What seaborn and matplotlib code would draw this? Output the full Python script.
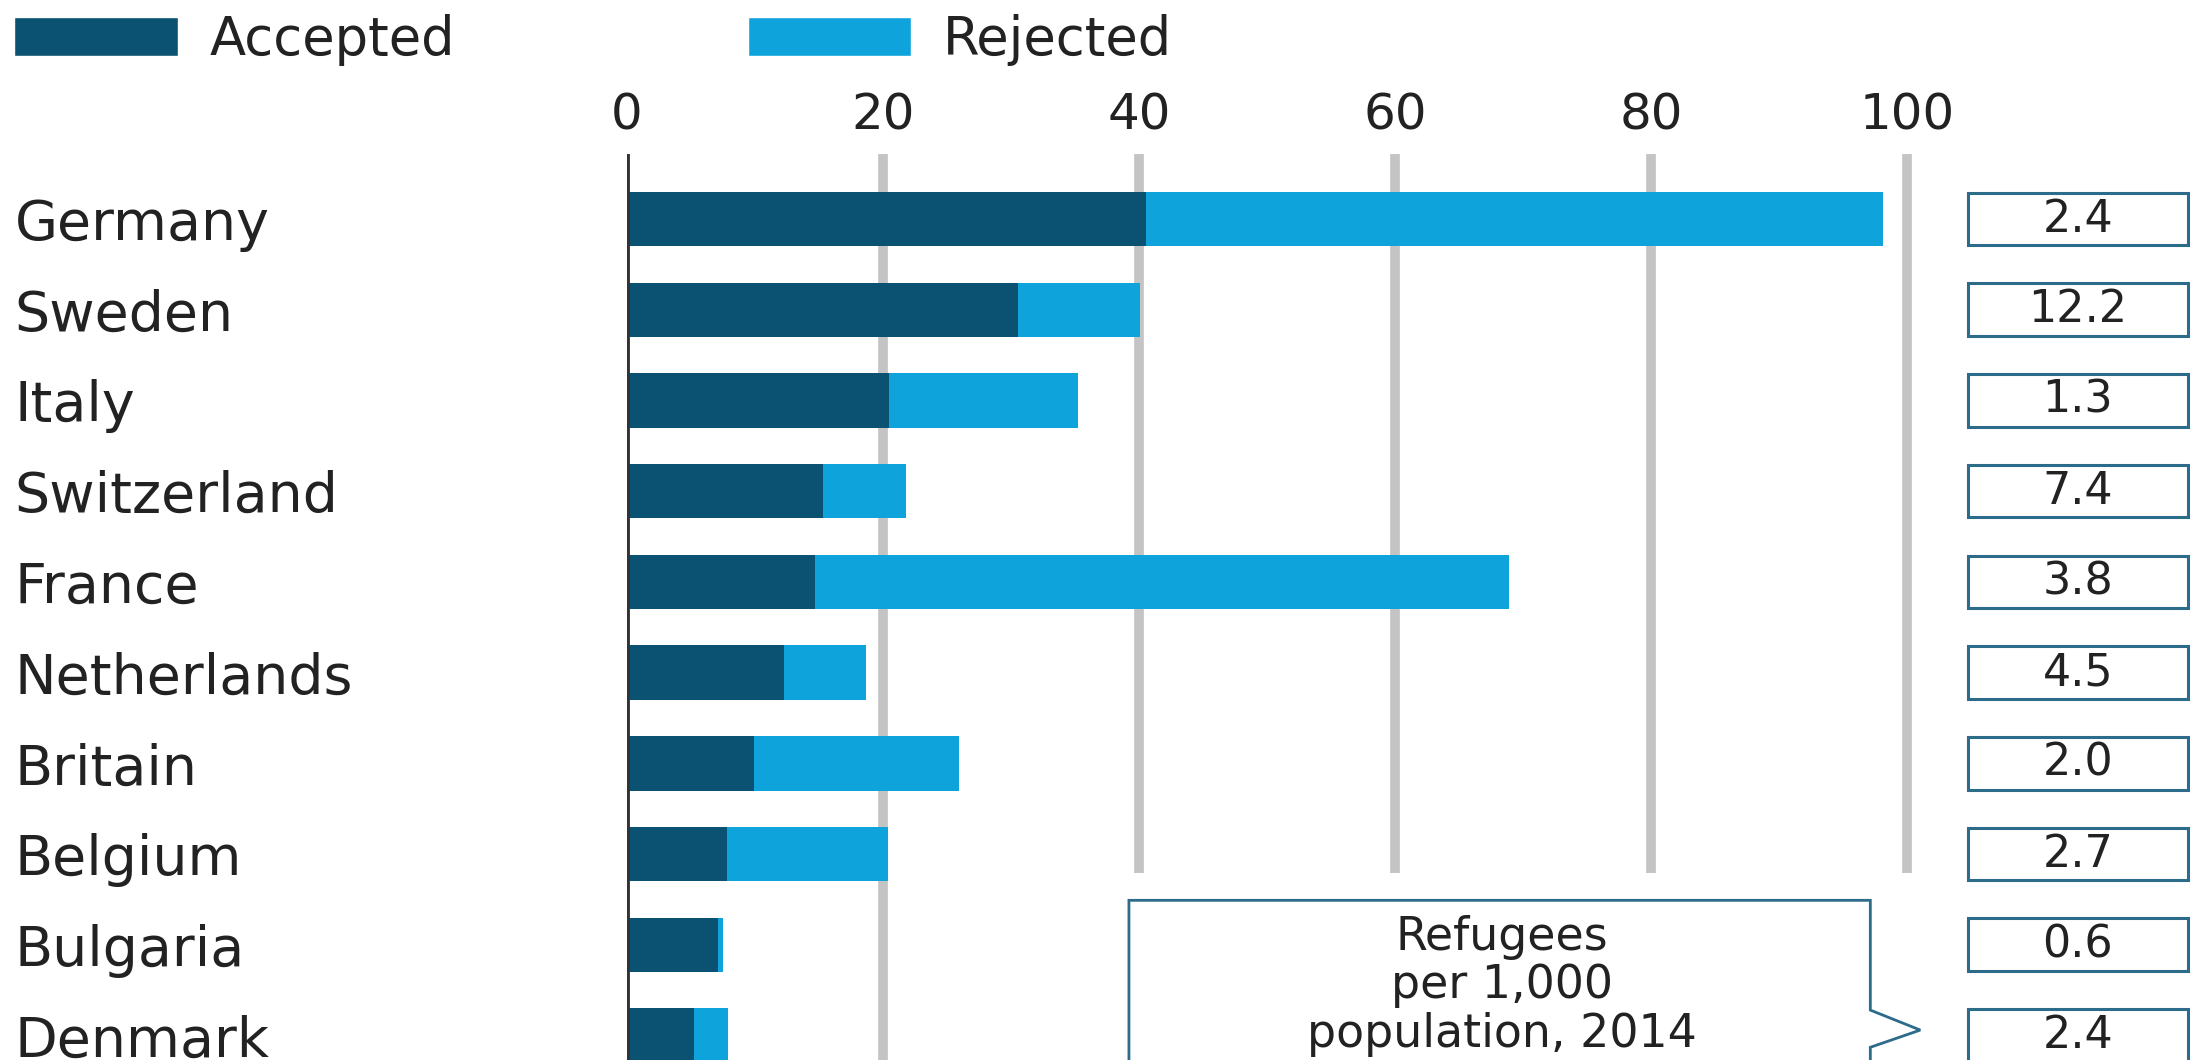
import numpy as np
import pandas as pd
import matplotlib
matplotlib.use("Agg")
import matplotlib.pyplot as plt
from matplotlib.patches import Patch, Polygon
import seaborn as sns

# data
countries = ["Germany", "Sweden", "Italy", "Switzerland", "France",
             "Netherlands", "Britain", "Belgium", "Bulgaria", "Denmark"]
accepted = [40.5, 30.5, 20.5, 15.3, 14.7, 12.3, 9.9, 7.8, 7.1, 5.2]
rejected = [57.6, 9.6, 14.7, 6.5, 54.2, 6.4, 16.0, 12.6, 0.4, 2.7]
per_1000 = ["2.4", "12.2", "1.3", "7.4", "3.8", "4.5", "2.0", "2.7", "0.6", "2.4"]
xticks = [0, 20, 40, 60, 80, 100]

dark = "#0b5272"
light = "#0fa3dc"
edge = "#2d6b8a"
txt = "#222222"

df = pd.DataFrame({"country": countries, "accepted": accepted, "rejected": rejected})
df["total"] = df["accepted"] + df["rejected"]

sns.set_theme(style="white")
plt.rcParams["font.family"] = ["DejaVu Sans"]

fig = plt.figure(figsize=(21.93, 10.6), dpi=100)
ax = fig.add_axes([627/2193, 0.0, 1 - 627/2193, 0.855])

# gridlines (20 runs full height, the others stop above the callout)
ax.vlines(20, -0.72, 9.3, color="#c4c4c4", lw=7, zorder=0)
ax.vlines(xticks[2:], -0.72, 7.21, color="#c4c4c4", lw=7, zorder=0)

sns.barplot(data=df, x="total", y="country", color=light, width=0.6,
            saturation=1, linewidth=0, ax=ax, zorder=2)
sns.barplot(data=df, x="accepted", y="country", color=dark, width=0.6,
            saturation=1, linewidth=0, ax=ax, zorder=3)

ax.axvline(0, color="#333333", lw=3.5, zorder=4)

# boxes with refugees per 1,000 population
ypos = np.arange(len(countries))
ax.barh(ypos, 17.2, left=104.7, height=0.58, facecolor="white",
        edgecolor=edge, linewidth=2.2, zorder=2)
for y, v in zip(ypos, per_1000):
    ax.text(113.3, y, v, ha="center", va="center", fontsize=32, color=txt, zorder=5)

# callout
call = Polygon([(39.2, 7.51), (97.1, 7.51), (97.1, 8.72), (101.0, 8.94),
                (97.1, 9.13), (97.1, 9.8), (39.2, 9.8)], closed=True,
               facecolor="white", edgecolor=edge, lw=2, zorder=4)
ax.add_patch(call)
ax.text(68.3, 8.45, "Refugees\nper 1,000\npopulation, 2014", ha="center",
        va="center", fontsize=33, color=txt, linespacing=1.1, zorder=5)

ax.set_xlim(0, 122.3)
ax.set_ylim(9.27, -0.72)
ax.set_xlabel("")
ax.set_ylabel("")
ax.xaxis.tick_top()
ax.set_xticks(xticks)
ax.set_xticklabels([str(t) for t in xticks])
ax.tick_params(axis="x", length=0, pad=10, labelsize=36, colors=txt)
ax.tick_params(axis="y", length=0, pad=441, labelsize=40, colors=txt)
for lab in ax.get_yticklabels():
    lab.set_ha("left")
for s in ax.spines.values():
    s.set_visible(False)

handles = [Patch(facecolor=dark, label="Accepted"),
           Patch(facecolor=light, label="Rejected")]
fig.legend(handles=handles, loc="upper left", bbox_to_anchor=(14/2193, 1 - 14/1060),
           ncol=2, frameon=False, fontsize=38, handlelength=3.1, handleheight=0.74,
           handletextpad=0.6, columnspacing=5.55, borderpad=0, borderaxespad=0,
           labelcolor=txt)

fig.savefig("out.png", dpi=100)
